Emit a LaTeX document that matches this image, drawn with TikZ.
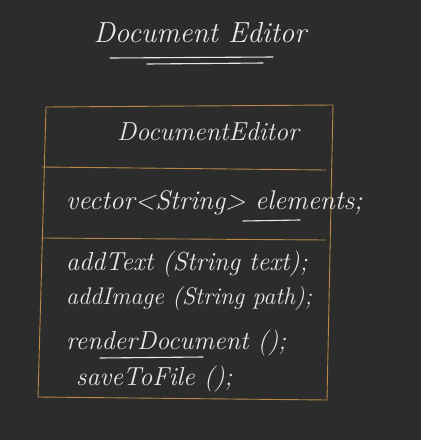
\documentclass[tikz,border=0pt]{standalone}
\usepackage{fontspec}
\definecolor{bg}{RGB}{44,44,44}
\definecolor{boxline}{RGB}{185,135,70}
\definecolor{ink}{RGB}{232,232,232}
\begin{document}
\begin{tikzpicture}[x=1pt,y=-1pt,
  hand/.style={text=ink,font=\fontsize{26}{30}\selectfont\itshape,inner sep=0pt},
  boxedge/.style={draw=boxline,line width=0.9pt,line cap=round},
  inkline/.style={draw=ink,line width=1.1pt,line cap=round}]
\fill[bg] (0,0) rectangle (421,440);
\useasboundingbox (0,0) rectangle (421,440);
% title
\node[hand,font=\fontsize{29}{33}\selectfont\itshape] (title) at (200,33) {Document Editor};
\coordinate (u1a) at (110,58); \coordinate (u1b) at (273,57);
\coordinate (u2a) at (147,64); \coordinate (u2b) at (263,63);
\draw[inkline] (u1a) -- (u1b);
\draw[inkline] (u2a) -- (u2b);
% box corners
\coordinate (tl) at (46,107); \coordinate (tr) at (333,105);
\coordinate (br) at (327,400); \coordinate (bl) at (38,397);
\coordinate (d1a) at (42,167); \coordinate (d1b) at (326,170);
\coordinate (d2a) at (43,238); \coordinate (d2b) at (326,240);
\draw[boxedge] (tl) -- (tr) -- (br) -- (bl) -- cycle;
\draw[boxedge] (d1a) -- (d1b);
\draw[boxedge] (d2a) -- (d2b);
% class name
\node[hand] (cname) at (208,132) {DocumentEditor};
% attribute
\node[hand,anchor=west,font=\fontsize{27}{30}\selectfont\itshape] (attr) at (66,203) {vector<String> elements;};
\coordinate (ea) at (243,221); \coordinate (eb) at (300,220);
\draw[inkline] (ea) -- (eb);
% methods
\node[hand,anchor=west] (m1) at (66,264) {addText (String text);};
\node[hand,anchor=west,font=\fontsize{24}{28}\selectfont\itshape] (m2) at (66,299) {addImage (String path);};
\node[hand,anchor=west] (m3) at (66,343) {renderDocument ();};
\node[hand,anchor=west] (m4) at (76,379) {saveToFile ();};
\coordinate (ra) at (100,358); \coordinate (rb) at (203,357);
\draw[inkline] (ra) -- (rb);
\end{tikzpicture}
\end{document}
